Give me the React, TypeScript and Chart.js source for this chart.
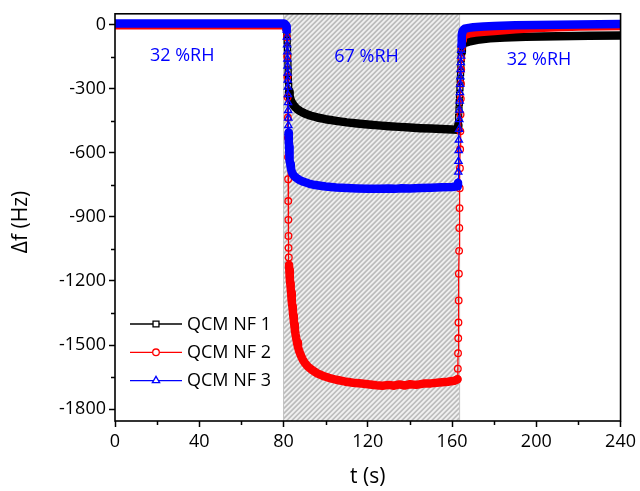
import React, { useEffect, useRef } from 'react';
import { Chart, registerables } from 'chart.js';

Chart.register(...registerables);

// ---- data (time in s, frequency shift in Hz) ----
const seriesNames = ['QCM NF 1', 'QCM NF 2', 'QCM NF 3'];

const nf1: [number, number][] = [
  [0, 0], [10, 0], [20, 0], [30, 0], [40, 0], [50, 0], [60, 0], [70, 0], [80, 0], [80.5, -1], [80.9, -4], [81.3, -14],
  [81.6, -40], [81.75, -75], [81.9, -110], [82.0, -148], [82.1, -185], [82.2, -222], [82.3, -258], [82.45, -290], [82.65, -315],
  [82.9, -335], [83.3, -350], [83.8, -362], [84.5, -374], [85.5, -386], [86.5, -396], [88, -406], [90, -416], [93, -427], [96, -435],
  [100, -443], [105, -451], [110, -458], [115, -463], [120, -468], [125, -472], [130, -476], [135, -479], [140, -482], [145, -485],
  [150, -487], [155, -489], [160, -491], [162.8, -492],
  [163.0, -470], [163.15, -435], [163.3, -400], [163.45, -365], [163.6, -330], [163.75, -295], [163.9, -260], [164.05, -225],
  [164.2, -190], [164.35, -158], [164.5, -130], [164.65, -108], [164.85, -95], [165.2, -89],
  [166, -86], [168, -80], [172, -72], [178, -65], [185, -61], [195, -57], [210, -55], [225, -53], [240, -51],
];

const nf2: [number, number][] = [
  [0, -4], [10, -4], [20, -4], [30, -4], [40, -4], [50, -4], [60, -4], [70, -4], [80, -4], [80.5, -5], [80.9, -8], [81.3, -18],
  [81.6, -60], [81.75, -150], [81.85, -245], [81.95, -340], [82.05, -435], [82.1, -530], [82.15, -620], [82.2, -724],
  [82.25, -826], [82.3, -914], [82.35, -989], [82.4, -1045], [82.5, -1090], [82.6, -1125],
  [82.75, -1147], [82.9, -1168], [83.05, -1190], [83.2, -1211], [83.4, -1232], [83.6, -1254], [83.8, -1275], [84.0, -1296],
  [84.2, -1318], [84.4, -1338], [84.6, -1360], [84.85, -1382], [85.1, -1404], [85.35, -1425], [85.65, -1446], [86.0, -1467],
  [86.4, -1488], [86.85, -1508], [87.4, -1527], [88.1, -1545], [89, -1565], [90, -1582], [91.5, -1600], [93.5, -1616],
  [96, -1632], [98.5, -1643], [101.5, -1653], [105, -1662], [109, -1670], [113, -1676], [117, -1680], [121, -1684],
  [124, -1688], [127, -1690], [130, -1686], [132.5, -1690], [135, -1684], [137.5, -1689], [140, -1683], [143, -1686],
  [146.5, -1680], [150, -1679], [154, -1675], [158, -1671], [161, -1667], [162.6, -1660],
  [162.75, -1610], [162.85, -1538], [162.95, -1468], [163.05, -1394], [163.15, -1291], [163.25, -1166], [163.35, -1059],
  [163.45, -952], [163.55, -859], [163.65, -766], [163.75, -672], [163.85, -584], [163.95, -500], [164.05, -421],
  [164.15, -347], [164.25, -277], [164.35, -212], [164.45, -156], [164.6, -109], [164.8, -74], [165.1, -56],
  [165.6, -50], [166.5, -47], [168, -43], [171, -38], [175, -34], [180, -30], [190, -22], [200, -17], [210, -13],
  [220, -10], [230, -8], [240, -7],
];

const nf3: [number, number][] = [
  [0, 5], [10, 5], [20, 5], [30, 5], [40, 5], [50, 5], [60, 5], [70, 5], [80, 5], [80.5, 4], [80.9, 0], [81.3, -8],
  [81.5, -26], [81.6, -58], [81.7, -95], [81.8, -128], [81.85, -161], [81.9, -194], [81.95, -227], [82.0, -260],
  [82.05, -293], [82.1, -328], [82.15, -365], [82.2, -402], [82.25, -438], [82.3, -472], [82.4, -505],
  [82.45, -525], [82.55, -548], [82.65, -571], [82.75, -594], [82.85, -615], [83.0, -635], [83.2, -653], [83.45, -670],
  [83.8, -685], [84.3, -698], [85, -708], [86, -717], [87.5, -727], [89.5, -736], [92, -744], [95, -751], [100, -758],
  [105, -763], [110, -765], [115, -767], [120, -768], [125, -769], [130, -767], [133, -769], [136, -766], [140, -767],
  [145, -765], [150, -764], [155, -762], [160, -760], [162.7, -757],
  [162.85, -740], [162.95, -690], [163.05, -640], [163.15, -590], [163.25, -540], [163.35, -490], [163.45, -445],
  [163.55, -400], [163.65, -358], [163.75, -318], [163.85, -280], [163.95, -244], [164.05, -210], [164.15, -178],
  [164.25, -148], [164.35, -120], [164.45, -95], [164.55, -72], [164.65, -52], [164.8, -38],
  [165.0, -30], [165.5, -24], [166, -20], [168, -16], [170, -13], [175, -9], [180, -7], [190, -4], [200, -2], [220, 0], [240, 2],
];

const xTicks = [0, 40, 80, 120, 160, 200, 240];
const yTicks = [0, -300, -600, -900, -1200, -1500, -1800];
const xMinorTicks = [20, 60, 100, 140, 180, 220];
const yMinorTicks = [-150, -450, -750, -1050, -1350, -1650];
const humidWindow = [80, 163.6];
const regionLabels = ['32 %RH', '67 %RH', '32 %RH'];

// ---- style ----
const colors = ['#000000', '#ff0000', '#0000ff'];
const pointStyles = ['rect', 'circle', 'triangle'];
const markerRadius = [4.2, 3.3, 4.2];
const FONT = '"Open Sans", "DejaVu Sans", sans-serif';

function isThin(x0: number, y0: number, x1: number, y1: number) {
  const dx = Math.abs(x1 - x0);
  const dy = Math.abs(y1 - y0);
  return dy > dx && Math.hypot(dx, dy) >= 5;
}

function markerRadiusFn(base: number) {
  return (ctx: any) => {
    if (ctx.type !== 'data') return 0;
    const chart = ctx.chart;
    const xs = chart.scales.x;
    const ys = chart.scales.y;
    if (!xs || !ys) return 0;
    const data = ctx.dataset.data as { x: number; y: number }[];
    const i = ctx.dataIndex;
    const px = (k: number) => xs.getPixelForValue(data[k].x);
    const py = (k: number) => ys.getPixelForValue(data[k].y);
    let show = false;
    if (i > 0 && isThin(px(i - 1), py(i - 1), px(i), py(i))) show = true;
    if (i < data.length - 1 && isThin(px(i), py(i), px(i + 1), py(i + 1))) show = true;
    return show ? base : 0;
  };
}

function drawMarker(ctx: CanvasRenderingContext2D, style: string, x: number, y: number, r: number) {
  ctx.beginPath();
  if (style === 'rect') {
    const h = r * Math.SQRT1_2;
    ctx.rect(x - h, y - h, 2 * h, 2 * h);
  } else if (style === 'circle') {
    ctx.arc(x, y, r, 0, Math.PI * 2);
  } else {
    for (let k = 0; k < 3; k++) {
      const a = (k * 2 * Math.PI) / 3;
      const px = x + Math.sin(a) * r;
      const py = y - Math.cos(a) * r;
      if (k === 0) ctx.moveTo(px, py);
      else ctx.lineTo(px, py);
    }
    ctx.closePath();
  }
  ctx.fillStyle = '#ffffff';
  ctx.fill();
  ctx.stroke();
}

const decor = {
  id: 'decor',
  beforeDatasetsDraw(chart: any) {
    const { ctx, chartArea: a, scales } = chart;
    const x0 = scales.x.getPixelForValue(humidWindow[0]);
    const x1 = scales.x.getPixelForValue(humidWindow[1]);
    const h = a.bottom - a.top;
    ctx.save();
    ctx.beginPath();
    ctx.rect(x0, a.top, x1 - x0, h);
    ctx.clip();
    ctx.fillStyle = '#f1f1f1';
    ctx.fillRect(x0, a.top, x1 - x0, h);
    ctx.strokeStyle = '#bcbcbc';
    ctx.lineWidth = 1.7;
    for (let k = x0 - h; k < x1 + 6; k += 5) {
      ctx.beginPath();
      ctx.moveTo(k, a.bottom);
      ctx.lineTo(k + h, a.top);
      ctx.stroke();
    }
    ctx.restore();
    ctx.save();
    ctx.strokeStyle = '#c4c4c4';
    ctx.lineWidth = 1;
    ctx.beginPath();
    ctx.moveTo(x0, a.top);
    ctx.lineTo(x0, a.bottom);
    ctx.moveTo(x1, a.top);
    ctx.lineTo(x1, a.bottom);
    ctx.stroke();
    ctx.restore();
  },
  afterDatasetsDraw(chart: any) {
    const { ctx, chartArea: a, scales } = chart;
    ctx.save();
    // frame
    ctx.strokeStyle = '#000';
    ctx.lineWidth = 1.6;
    ctx.strokeRect(a.left, a.top, a.right - a.left, a.bottom - a.top);
    // minor ticks
    ctx.lineWidth = 1.5;
    ctx.beginPath();
    xMinorTicks.forEach((v) => {
      const p = Math.round(scales.x.getPixelForValue(v)) + 0.5;
      ctx.moveTo(p, a.bottom);
      ctx.lineTo(p, a.bottom + 4);
    });
    yMinorTicks.forEach((v) => {
      const p = Math.round(scales.y.getPixelForValue(v)) + 0.5;
      ctx.moveTo(a.left, p);
      ctx.lineTo(a.left - 4, p);
    });
    ctx.stroke();

    // region annotations
    const anchors = [
      [16.6, -169],
      [104.1, -174],
      [186, -188],
    ];
    ctx.font = `18px ${FONT}`;
    ctx.fillStyle = '#0000ff';
    ctx.textAlign = 'left';
    ctx.textBaseline = 'alphabetic';
    regionLabels.forEach((t, i) => {
      ctx.fillText(t, scales.x.getPixelForValue(anchors[i][0]), scales.y.getPixelForValue(anchors[i][1]));
    });

    // legend
    const lx = a.left + 15;
    seriesNames.forEach((name, i) => {
      const y = 324 + i * 28.3;
      ctx.strokeStyle = colors[i];
      ctx.lineWidth = 1.3;
      ctx.beginPath();
      ctx.moveTo(lx, y);
      ctx.lineTo(lx + 52, y);
      ctx.stroke();
      drawMarker(ctx, pointStyles[i], lx + 26, y, markerRadius[i]);
      ctx.fillStyle = '#000';
      ctx.font = `18px ${FONT}`;
      ctx.textAlign = 'left';
      ctx.textBaseline = 'middle';
      ctx.fillText(name, lx + 57, y + 0.5);
    });

    // axis titles
    ctx.fillStyle = '#000';
    ctx.font = `21px ${FONT}`;
    ctx.textAlign = 'center';
    ctx.textBaseline = 'middle';
    ctx.fillText('t (s)', (a.left + a.right) / 2, 477);
    ctx.translate(21, 222);
    ctx.rotate(-Math.PI / 2);
    ctx.fillText('\u0394f (Hz)', 0, 0);
    ctx.restore();
  },
};

export default function App() {
  const ref = useRef<HTMLCanvasElement>(null);
  useEffect(() => {
    const series = [nf1, nf2, nf3];
    const chart = new Chart(ref.current as HTMLCanvasElement, {
      type: 'line',
      data: {
        datasets: series.map((s, i) => ({
          label: seriesNames[i],
          data: s.map(([x, y]) => ({ x, y })),
          borderColor: colors[i],
          backgroundColor: 'rgba(0,0,0,0)',
          pointBorderColor: colors[i],
          pointBackgroundColor: 'rgba(255,255,255,0)',
          pointStyle: pointStyles[i] as any,
          pointRadius: markerRadiusFn(markerRadius[i]) as any,
          pointBorderWidth: 1.3,
          borderWidth: 8.5,
          borderCapStyle: 'round' as const,
          borderJoinStyle: 'round' as const,
          tension: 0,
          order: 3 - i,
          segment: {
            borderWidth: (c: any) => (isThin(c.p0.x, c.p0.y, c.p1.x, c.p1.y) ? 1.2 : 8.5),
          },
        })),
      },
      options: {
        responsive: false,
        devicePixelRatio: 1,
        animation: false,
        events: [],
        layout: { padding: { left: 0, right: 17, top: 12, bottom: 0 } },
        plugins: { legend: { display: false }, tooltip: { enabled: false } },
        scales: {
          x: {
            type: 'linear',
            min: 0,
            max: 240,
            afterBuildTicks: (s: any) => {
              s.ticks = xTicks.map((v) => ({ value: v }));
            },
            afterFit: (s: any) => {
              s.height = 70;
            },
            ticks: {
              autoSkip: false,
              maxRotation: 0,
              color: '#000',
              padding: 4,
              font: { family: FONT, size: 18 },
              callback: (v: any) => String(v),
            },
            grid: {
              display: true,
              drawOnChartArea: false,
              drawTicks: true,
              tickLength: 6,
              tickWidth: 1.5,
              tickColor: '#000',
            },
            border: { display: false },
          },
          y: {
            type: 'linear',
            min: -1855,
            max: 50,
            afterBuildTicks: (s: any) => {
              s.ticks = yTicks.map((v) => ({ value: v }));
            },
            afterFit: (s: any) => {
              s.width = 115;
            },
            ticks: {
              autoSkip: false,
              color: '#000',
              padding: 3,
              font: { family: FONT, size: 18 },
              callback: (v: any) => String(v),
            },
            grid: {
              display: true,
              drawOnChartArea: false,
              drawTicks: true,
              tickLength: 6,
              tickWidth: 1.5,
              tickColor: '#000',
            },
            border: { display: false },
          },
        },
      },
      plugins: [decor],
    } as any);
    return () => chart.destroy();
  }, []);
  return (
    <div style={{ position: 'absolute', left: 0, top: 0, width: 640, height: 491, background: '#fff' }}>
      <canvas ref={ref} width={640} height={491} style={{ display: 'block', width: 640, height: 491 }} />
    </div>
  );
}
